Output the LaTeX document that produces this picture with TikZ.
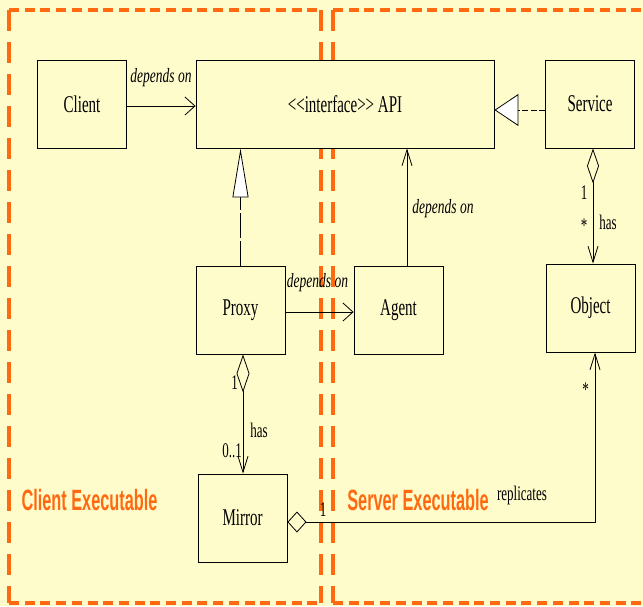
\documentclass[tikz,border=0pt]{standalone}
\usepackage{fontspec}
\setmainfont{Liberation Serif}
\newfontfamily\lsans{Liberation Sans}
\usetikzlibrary{arrows.meta,calc}
\definecolor{bg}{HTML}{FFFCCC}
\definecolor{org}{HTML}{FF6A10}
\newcommand\vs[2]{\scalebox{1}[#1]{#2}}
\begin{document}
\begin{tikzpicture}[x=1pt,y=-1pt,
  box/.style={draw=black,line width=0.9pt,fill=bg,inner sep=0pt,
    minimum width=89pt,minimum height=88pt,font=\fontsize{15}{18}\selectfont},
  lbl/.style={inner sep=0pt,font=\fontsize{13}{15}\selectfont},
  dlbl/.style={inner sep=0pt,font=\fontsize{13.5}{15}\selectfont\itshape},
  region/.style={inner sep=0pt,text=org,font=\fontsize{16.3}{18}\selectfont\lsans\bfseries},
  hdash/.style={org,line width=4pt,dash pattern=on 10pt off 5.7pt},
  vdash/.style={org,line width=3.5pt,dash pattern=on 21pt off 11pt},
  conn/.style={draw=black,line width=0.8pt},
  hto/.style={conn,-{Straight Barb[length=10pt,width=18pt]}},
  vto/.style={conn,-{Straight Barb[length=16pt,width=10pt]}}
]
\useasboundingbox (0,0) rectangle (643,606);
\fill[bg] (0,0) rectangle (643,606);

% executable regions
\draw[hdash] (9,9.5) -- (321,9.5);
\draw[hdash] (9,603) -- (321,603);
\draw[vdash] (9,9.5) -- (9,603);
\draw[vdash] (321,9.5) -- (321,603);
\draw[hdash] (333,9.5) -- (643,9.5);
\draw[hdash] (333,603) -- (643,603);
\draw[vdash] (333,9.5) -- (333,603);

% classes
\node[box] (client) at (82,104) {\vs{1.6}{Client}};
\node[box,minimum width=298pt] (api) at (345,104) {\vs{1.6}{<{}<interface>{}> API}};
\node[box] (service) at (590,104) {\vs{1.6}{Service}};
\node[box] (proxy) at (240.5,310) {\vs{1.6}{Proxy}};
\node[box] (agent) at (398.5,310) {\vs{1.6}{Agent}};
\node[box] (object) at (590.5,308) {\vs{1.6}{Object}};
\node[box] (mirror) at (242.5,518) {\vs{1.6}{Mirror}};

% connectors
\draw[hto] ([yshift=-2pt]client.east) -- ([yshift=-2pt]api.west);
\draw[conn,dash pattern=on 6pt off 2.5pt,-{Triangle[length=24pt,width=32pt,fill=white]}]
  ([yshift=-6pt]service.west) -- ([yshift=-6pt]api.east);
\draw[conn,dash pattern=on 25pt off 3pt,-{Triangle[length=49pt,width=16pt,fill=white]}]
  (proxy.north) -- (proxy.north |- api.south);
\draw[vto] ([xshift=8.5pt]agent.north) -- ([xshift=8.5pt]agent.north |- api.south);
\draw[hto] ([yshift=-2pt]proxy.east) -- ([yshift=-2pt]agent.west);
\draw[conn,{Diamond[length=35pt,width=12pt,fill=bg]}-{Straight Barb[length=16pt,width=10pt]}]
  ([xshift=3pt]service.south) -- ([xshift=3pt]service.south |- object.north);
\draw[conn,{Diamond[length=38pt,width=13pt,fill=bg]}-{Straight Barb[length=16pt,width=10pt]}]
  ([xshift=2.5pt]proxy.south) -- ([xshift=2.5pt]proxy.south |- mirror.north);
\draw[conn,{Diamond[length=19pt,width=21pt,fill=bg]}-{Straight Barb[length=16pt,width=10pt]}]
  ([yshift=-4pt]mirror.east) -| ([xshift=4.5pt]object.south);

% labels
\node[dlbl] (dep1) at (161,78) {\vs{1.5}{depends on}};
\node[dlbl] (dep2) at (317.5,283) {\vs{1.5}{depends on}};
\node[dlbl] (dep3) at (443,209) {\vs{1.5}{depends on}};
\node[lbl] (m1) at (584,193) {\vs{1.6}{1}};
\node[lbl] (m2) at (584,226) {\vs{1.6}{*}};
\node[lbl] (has1) at (608,222) {\vs{1.6}{has}};
\node[lbl] (m3) at (234.5,383) {\vs{1.6}{1}};
\node[lbl] (has2) at (259,430) {\vs{1.6}{has}};
\node[lbl] (m4) at (232,451) {\vs{1.6}{0..1}};
\node[lbl] (m5) at (323,510) {\vs{1.6}{1}};
\node[lbl] (rep) at (522,495) {\vs{1.6}{replicates}};
\node[lbl] (m6) at (585.5,390) {\vs{1.6}{*}};
\node[region] (cexe) at (89.5,500) {\vs{1.8}{Client Executable}};
\node[region] (sexe) at (418,500) {\vs{1.8}{Server Executable}};
\end{tikzpicture}
\end{document}
